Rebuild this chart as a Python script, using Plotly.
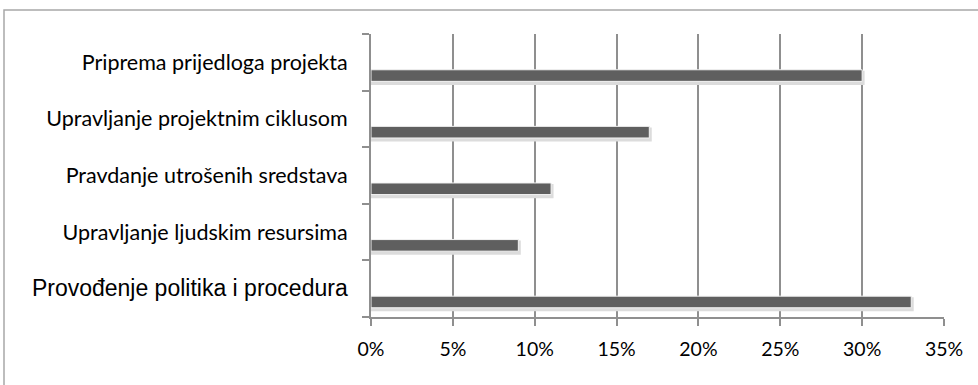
import plotly.graph_objects as go

categories = [
    "Priprema prijedloga projekta",
    "Upravljanje projektnim ciklusom",
    "Pravdanje utrošenih sredstava",
    "Upravljanje ljudskim resursima",
    "Provođenje politika i procedura",
]
values = [0.30, 0.17, 0.11, 0.09, 0.33]
tick_vals = [0, 0.05, 0.10, 0.15, 0.20, 0.25, 0.30, 0.35]
tick_text = ["0%", "5%", "10%", "15%", "20%", "25%", "30%", "35%"]

W, H = 978, 385
L, R, T, B = 371, 34, 34, 68
pw, ph = W - L - R, H - T - B

y_labels = [c for c in categories[:-1]] + [
    '<span style="font-family:Liberation Sans, Arial;font-size:23px">' + categories[-1] + "</span>"
]

fig = go.Figure()
# soft shadow under bars
fig.add_trace(go.Bar(
    y=categories, x=[v + 0.0015 for v in values], orientation="h",
    offset=0.15, width=0.25,
    marker=dict(color="#dcdcdc", line=dict(width=0)),
    hoverinfo="skip", showlegend=False,
))
fig.add_trace(go.Bar(
    y=categories, x=values, orientation="h",
    offset=0.132, width=0.205,
    marker=dict(color="#5f5f5f", line=dict(color="#f4f4f4", width=1)),
    showlegend=False,
))

fig.update_layout(
    width=W, height=H,
    margin=dict(l=L, r=R, t=T, b=B, autoexpand=False),
    paper_bgcolor="white", plot_bgcolor="white",
    barmode="overlay",
    font=dict(family="Lato, Carlito, Calibri, sans-serif", size=21.5, color="#000"),
    xaxis=dict(
        range=[0, 0.35], tickvals=tick_vals, ticktext=tick_text,
        tickfont=dict(size=19.5),
        showgrid=True, gridcolor="#8f8f8f", gridwidth=1.5,
        showline=True, linecolor="#8f8f8f", linewidth=2,
        ticks="outside", ticklen=7, tickcolor="#8f8f8f", tickwidth=1.5,
        ticklabelstandoff=7, zeroline=False, automargin=False,
    ),
    yaxis=dict(
        type="category", categoryorder="array", categoryarray=categories,
        tickvals=categories, ticktext=y_labels,
        range=[4.5, -0.5], tickson="boundaries",
        showgrid=False, showline=True, linecolor="#8f8f8f", linewidth=2,
        ticks="outside", ticklen=7, tickcolor="#8f8f8f", tickwidth=1.5,
        ticklabelstandoff=17, zeroline=False, automargin=False,
    ),
    shapes=[dict(
        type="rect", xref="paper", yref="paper",
        x0=(4 - L) / pw, x1=(990 - L) / pw,
        y0=(H - B - 400) / ph, y1=(H - B - 10) / ph,
        line=dict(color="#a8a8a8", width=1.5), fillcolor="rgba(0,0,0,0)", layer="below",
    )],
)

fig.write_html(
    "out.html",
    config={"displayModeBar": False},
    post_script="document.body.style.margin='0';document.body.style.overflow='hidden';",
)
